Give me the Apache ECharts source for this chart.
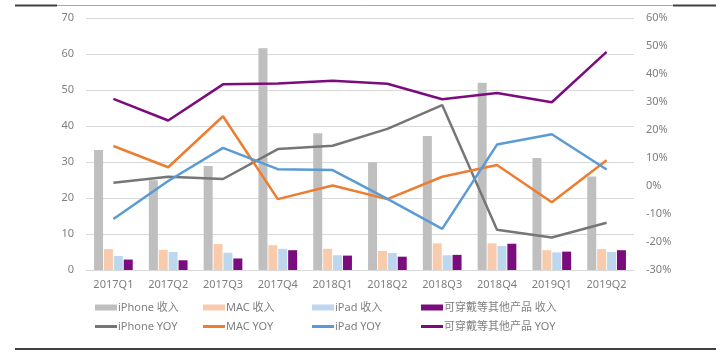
<!DOCTYPE html>
<html>
<head>
<meta charset="utf-8">
<script src="https://cdn.jsdelivr.net/npm/echarts@6/dist/echarts.min.js"></script>
<style>
  html, body { margin: 0; padding: 0; background: #fff; }
  #main { width: 720px; height: 353px; }
</style>
</head>
<body>
<div id="main"></div>
<script>
// 季度
var quarters = ['2017Q1', '2017Q2', '2017Q3', '2017Q4', '2018Q1', '2018Q2', '2018Q3', '2018Q4', '2019Q1', '2019Q2'];
// 收入（十亿美元）
var iphoneRev = [33.3, 24.9, 28.9, 61.6, 38.0, 29.9, 37.2, 52.0, 31.1, 26.0];
var macRev = [5.8, 5.6, 7.2, 6.9, 5.9, 5.3, 7.4, 7.4, 5.5, 5.8];
var ipadRev = [3.9, 5.0, 4.8, 5.9, 4.1, 4.7, 4.1, 6.7, 4.9, 5.0];
var otherRev = [2.9, 2.7, 3.2, 5.5, 4.0, 3.7, 4.2, 7.3, 5.1, 5.5];
// 同比（%）
var iphoneYoy = [1.2, 3.3, 2.5, 13.2, 14.4, 20.4, 28.9, -15.6, -18.4, -13.1];
var macYoy = [14.3, 6.7, 24.9, -4.7, 0.2, -4.7, 3.3, 7.5, -5.8, 9.2];
var ipadYoy = [-11.8, 1.8, 13.6, 6.0, 5.7, -4.6, -15.3, 14.8, 18.5, 5.9];
var otherYoy = [31.1, 23.4, 36.3, 36.6, 37.6, 36.5, 31.0, 33.2, 29.9, 47.9];

var font = '"Noto Sans", "Noto Sans CJK SC", sans-serif';
var txt = '#7f7f7f';
var legendX = [90, 198, 307, 416];

var myChart = echarts.init(document.getElementById('main'));

// 每个图例单独放，方便对齐成两行四列
function legendItem(x, y, name, h) {
    return {
        left: x,
        top: y,
        itemWidth: 22,
        itemHeight: h,
        icon: 'rect',
        textStyle: { color: txt, fontSize: 11, fontFamily: font, padding: [0, 0, 0, -4] },
        data: [name]
    };
}

function bar(name, data, color) {
    return {
        name: name, type: 'bar', data: data,
        barWidth: 9, barGap: '10%',
        itemStyle: { color: color }
    };
}

function line(name, data, color) {
    return {
        name: name, type: 'line', yAxisIndex: 1, data: data,
        symbol: 'none', smooth: false,
        lineStyle: { color: color, width: 2.5 },
        itemStyle: { color: color }
    };
}

var barNames = ['iPhone 收入', 'MAC 收入', 'iPad 收入', '可穿戴等其他产品 收入'];
var lineNames = ['iPhone YOY', 'MAC YOY', 'iPad YOY', '可穿戴等其他产品 YOY'];
var legends = [];
for (let i = 0; i < 4; i++) {
    legends.push(legendItem(legendX[i], 297, barNames[i], 6));
    legends.push(legendItem(legendX[i], 316, lineNames[i], 3));
}

var option = {
    backgroundColor: '#fff',
    animation: false,
    grid: { left: 86, right: 86, top: 18, bottom: 83 },
    legend: legends,
    xAxis: {
        type: 'category',
        data: quarters,
        axisLine: { show: true, lineStyle: { color: '#d9d9d9' } },
        axisTick: { show: false },
        axisLabel: { color: txt, fontSize: 11, fontFamily: font, margin: 9 }
    },
    yAxis: [
        {
            type: 'value', min: 0, max: 70, interval: 10,
            axisLine: { show: false }, axisTick: { show: false },
            axisLabel: { color: txt, fontSize: 11, fontFamily: font, margin: 12 },
            splitLine: { lineStyle: { color: '#d9d9d9' } }
        },
        {
            type: 'value', min: -30, max: 60, interval: 10,
            axisLine: { show: false }, axisTick: { show: false },
            axisLabel: { color: txt, fontSize: 11, fontFamily: font, margin: 12, formatter: '{value}%' },
            splitLine: { show: false }
        }
    ],
    graphic: [
        { type: 'line', shape: { x1: 15, y1: 5.5, x2: 716, y2: 5.5 }, style: { stroke: '#a6a6a6', lineWidth: 1 } },
        { type: 'line', shape: { x1: 15, y1: 5.5, x2: 57, y2: 5.5 }, style: { stroke: '#404040', lineWidth: 2 } },
        { type: 'line', shape: { x1: 673, y1: 5.5, x2: 716, y2: 5.5 }, style: { stroke: '#404040', lineWidth: 2 } },
        { type: 'line', shape: { x1: 15, y1: 349, x2: 716, y2: 349 }, style: { stroke: '#404040', lineWidth: 2 } }
    ],
    series: [
        bar(barNames[0], iphoneRev, '#bfbfbf'),
        bar(barNames[1], macRev, '#f8cbad'),
        bar(barNames[2], ipadRev, '#bdd7ee'),
        bar(barNames[3], otherRev, '#7b0c7d'),
        line(lineNames[0], iphoneYoy, '#767676'),
        line(lineNames[1], macYoy, '#ed7d31'),
        line(lineNames[2], ipadYoy, '#5b9bd5'),
        line(lineNames[3], otherYoy, '#7b0c7d')
    ]
};

myChart.setOption(option);
</script>
</body>
</html>
